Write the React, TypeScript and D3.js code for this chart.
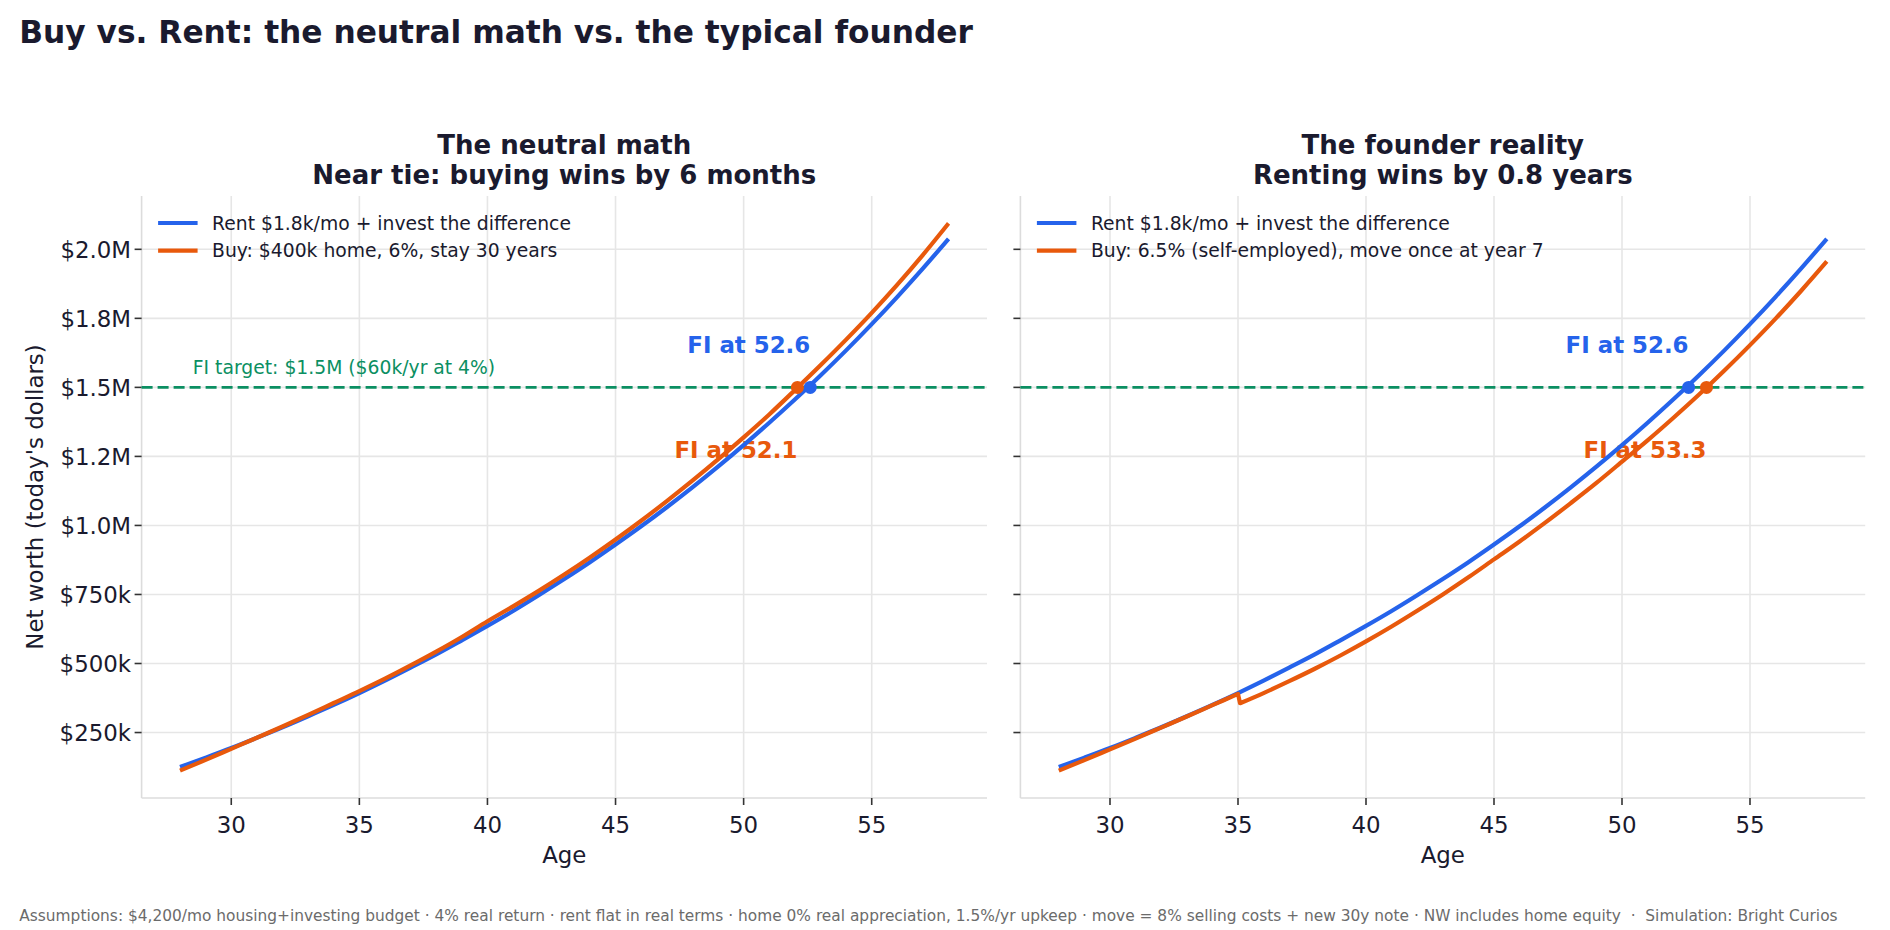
import React from 'react';
import * as d3 from 'd3';

// Net worth in $k, one value per age 28..58
const ages = d3.range(28, 59);
const rentNetWorth = [
  125, 159, 194, 231, 269, 309, 350, 393, 438, 485, 533, 584, 636, 690, 747, 806,
  867, 931, 997, 1066, 1138, 1213, 1291, 1372, 1456, 1543, 1634, 1729, 1828, 1931, 2038,
];
const neutralBuyNetWorth = [
  112, 151, 191, 231, 272, 314, 357, 400, 445, 493, 543, 596, 653, 707, 763, 822,
  884, 949, 1017, 1088, 1162, 1239, 1319, 1402, 1490, 1580, 1673, 1770, 1872, 1980, 2094,
];
// value at 35 is the one just before the move
const founderBuyNetWorth = [
  112, 150, 189, 228, 268, 308, 349, 390, 393, 436, 481, 529, 580, 634, 691, 750,
  812, 877, 942, 1010, 1081, 1154, 1231, 1308, 1389, 1473, 1561, 1653, 1749, 1850, 1956,
];
const founderMoveAge = 35;
const founderAfterMove = 356;

const fiTarget = 1500;
const yTicks = [250, 500, 750, 1000, 1250, 1500, 1750, 2000];
const yTickLabels = ['$250k', '$500k', '$750k', '$1.0M', '$1.2M', '$1.5M', '$1.8M', '$2.0M'];
const xTicks = [30, 35, 40, 45, 50, 55];

const panelTitles = [
  ['The neutral math', 'Near tie: buying wins by 6 months'],
  ['The founder reality', 'Renting wins by 0.8 years'],
];
const rentLegend = 'Rent $1.8k/mo + invest the difference';
const buyLegends = ['Buy: $400k home, 6%, stay 30 years', 'Buy: 6.5% (self-employed), move once at year 7'];
const rentFiAges = [52.6, 52.6];
const buyFiAges = [52.1, 53.3];

const BLUE = '#2563eb';
const ORANGE = '#e8590c';
const GREEN = '#0b8f62';
const INK = '#1a1a2e';
const FONT = '"DejaVu Sans", sans-serif';

const W = 1890;
const H = 930;
const top = 196;
const bottom = 798;
const panelX = [
  [141.6, 987],
  [1020.4, 1865.2],
];

type Pt = { age: number; v: number };

const rentPts: Pt[] = ages.map((a, i) => ({ age: a, v: rentNetWorth[i] }));
const neutralPts: Pt[] = ages.map((a, i) => ({ age: a, v: neutralBuyNetWorth[i] }));
// founder line in two smooth pieces joined by the drop at the move
const founderBefore: Pt[] = [];
const founderAfter: Pt[] = [{ age: founderMoveAge + 0.08, v: founderAfterMove }];
ages.forEach((a, i) => {
  if (a <= founderMoveAge) founderBefore.push({ age: a, v: founderBuyNetWorth[i] });
  else founderAfter.push({ age: a, v: founderBuyNetWorth[i] });
});

const allVals = [...rentNetWorth, ...neutralBuyNetWorth, ...founderBuyNetWorth];
const vMin = d3.min(allVals) as number;
const vMax = d3.max(allVals) as number;
const vPad = (vMax - vMin) * 0.05;
const y = d3.scaleLinear().domain([vMin - vPad, vMax + vPad]).range([bottom, top]);

function Panel({ idx }: { idx: number }) {
  const [x0, x1] = panelX[idx];
  const x = d3.scaleLinear().domain([26.5, 59.5]).range([x0, x1]);
  const line = d3
    .line<Pt>()
    .x((d) => x(d.age))
    .y((d) => y(d.v))
    .curve(d3.curveMonotoneX);
  const cx = (x0 + x1) / 2;
  const fiY = y(fiTarget);

  let buyPath = '';
  if (idx === 0) {
    buyPath = line(neutralPts) ?? '';
  } else {
    const last = founderBefore[founderBefore.length - 1];
    const first = founderAfter[0];
    buyPath =
      (line(founderBefore) ?? '') +
      `L${x(first.age)},${y(first.v)}` +
      (line(founderAfter) ?? '').replace(/^M/, 'L');
    void last;
  }

  return (
    <g>
      {/* grid */}
      {xTicks.map((t) => (
        <line key={'gx' + t} x1={x(t)} x2={x(t)} y1={top} y2={bottom} stroke="#e6e6e6" strokeWidth={1.6} />
      ))}
      {yTicks.map((t) => (
        <line key={'gy' + t} x1={x0} x2={x1} y1={y(t)} y2={y(t)} stroke="#e6e6e6" strokeWidth={1.6} />
      ))}
      {/* spines */}
      <line x1={x0} x2={x0} y1={top} y2={bottom} stroke="#dcdcdc" strokeWidth={1.6} />
      <line x1={x0} x2={x1} y1={bottom} y2={bottom} stroke="#dcdcdc" strokeWidth={1.6} />
      {/* ticks */}
      {yTicks.map((t, i) => (
        <g key={'ty' + t}>
          <line x1={x0 - 7} x2={x0} y1={y(t)} y2={y(t)} stroke="#333" strokeWidth={1.6} />
          {idx === 0 && (
            <text x={x0 - 10.5} y={y(t)} dy="0.36em" textAnchor="end" fontSize={22.9} fill={INK}>
              {yTickLabels[i]}
            </text>
          )}
        </g>
      ))}
      {xTicks.map((t) => (
        <g key={'tx' + t}>
          <line x1={x(t)} x2={x(t)} y1={bottom} y2={bottom + 7} stroke="#333" strokeWidth={1.6} />
          <text x={x(t)} y={832.7} textAnchor="middle" fontSize={22.9} fill={INK}>
            {t}
          </text>
        </g>
      ))}
      <text x={cx} y={863} textAnchor="middle" fontSize={22.9} fill={INK}>
        Age
      </text>
      {/* titles */}
      <text x={cx} y={154} textAnchor="middle" fontSize={26} fontWeight="bold" fill={INK}>
        {panelTitles[idx][0]}
      </text>
      <text x={cx} y={184} textAnchor="middle" fontSize={26} fontWeight="bold" fill={INK}>
        {panelTitles[idx][1]}
      </text>
      {/* FI target */}
      <line x1={x0} x2={x1} y1={fiY} y2={fiY} stroke={GREEN} strokeWidth={2.8} strokeDasharray="11,5" />
      {idx === 0 && (
        <text x={x(28.5)} y={fiY - 13} fontSize={18.75} fill={GREEN}>
          FI target: $1.5M ($60k/yr at 4%)
        </text>
      )}
      {/* FI labels */}
      <text x={x(rentFiAges[idx])} y={fiY - 34} textAnchor="end" fontSize={22.9} fontWeight="bold" fill={BLUE}>
        {`FI at ${rentFiAges[idx]}`}
      </text>
      <text x={x(buyFiAges[idx])} y={fiY + 70.4} textAnchor="end" fontSize={22.9} fontWeight="bold" fill={ORANGE}>
        {`FI at ${buyFiAges[idx]}`}
      </text>
      {/* series */}
      <path d={line(rentPts) ?? ''} fill="none" stroke={BLUE} strokeWidth={4.2} />
      <path d={buyPath} fill="none" stroke={ORANGE} strokeWidth={4.2} strokeLinejoin="round" />
      <circle cx={x(rentFiAges[idx])} cy={fiY} r={6.5} fill={BLUE} />
      <circle cx={x(buyFiAges[idx])} cy={fiY} r={6.5} fill={ORANGE} />
      {/* legend */}
      <line x1={x0 + 16.5} x2={x0 + 56} y1={223} y2={223} stroke={BLUE} strokeWidth={4.2} />
      <text x={x0 + 70.5} y={223} dy="0.36em" fontSize={18.75} fill={INK}>
        {rentLegend}
      </text>
      <line x1={x0 + 16.5} x2={x0 + 56} y1={250.7} y2={250.7} stroke={ORANGE} strokeWidth={4.2} />
      <text x={x0 + 70.5} y={250.7} dy="0.36em" fontSize={18.75} fill={INK}>
        {buyLegends[idx]}
      </text>
    </g>
  );
}

export default function App() {
  return (
    <svg
      width={W}
      height={H}
      viewBox={`0 0 ${W} ${H}`}
      style={{ position: 'absolute', left: 0, top: 0, display: 'block', background: '#fff' }}
      fontFamily={FONT}
    >
      <rect width={W} height={H} fill="#fff" />
      <text x={19.3} y={42.5} fontSize={31.25} fontWeight="bold" fill={INK}>
        Buy vs. Rent: the neutral math vs. the typical founder
      </text>
      <text transform="translate(42.5,497) rotate(-90)" textAnchor="middle" fontSize={22.9} fill={INK}>
        Net worth (today's dollars)
      </text>
      <Panel idx={0} />
      <Panel idx={1} />
      <text x={19.3} y={921} fontSize={15.4} fill="#6b6b6b" style={{ whiteSpace: 'pre' }}>
        {'Assumptions: $4,200/mo housing+investing budget · 4% real return · rent flat in real terms · home 0% real appreciation, 1.5%/yr upkeep · move = 8% selling costs + new 30y note · NW includes home equity  ·  Simulation: Bright Curios'}
      </text>
    </svg>
  );
}
